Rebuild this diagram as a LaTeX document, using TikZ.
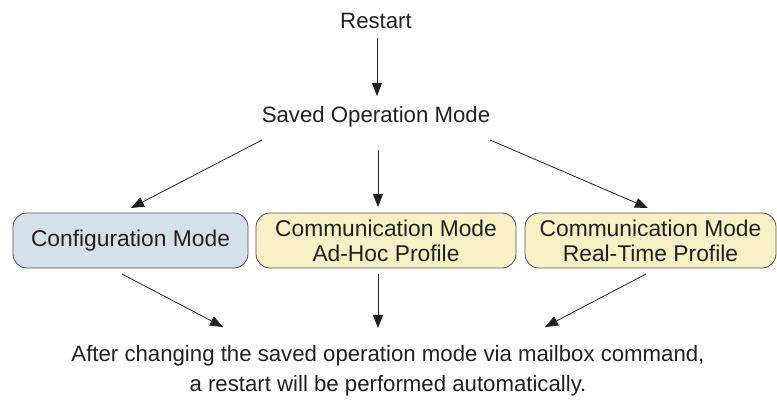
\documentclass[tikz,border=0pt]{standalone}
\usepackage{fontspec}
\setmainfont{Liberation Sans}
\usepackage{tikz}
\usetikzlibrary{arrows.meta,positioning,calc}
\usepackage{xcolor}
\definecolor{inktext}{RGB}{35,31,32}
\definecolor{cfgfill}{RGB}{213,225,233}
\definecolor{comfill}{RGB}{247,241,197}
\definecolor{boxline}{RGB}{80,80,80}

\tikzset{
  modebox/.style={draw=boxline,line width=0.8pt,rounded corners=14pt,align=center,
    inner sep=0pt,minimum height=55pt,font=\fontsize{22.8}{25}\selectfont},
  flow/.style={-{Triangle[length=13pt,width=10pt]},line width=0.8pt,draw=inktext},
  lbl/.style={font=\fontsize{22.2}{30}\selectfont,inner sep=0pt}
}

\begin{document}
\begin{tikzpicture}[x=1pt,y=-1pt,text=inktext]
\useasboundingbox (0,0) rectangle (777,414);
\node[lbl,anchor=base] (restart) at (376,29) {Restart};
\node[lbl,anchor=base] (saved) at (376,122.5) {Saved Operation Mode};
\node[modebox,fill=cfgfill,minimum width=235pt] (cfg) at (130.5,240.5) {Configuration Mode};
\node[modebox,fill=comfill,minimum width=260pt] (adhoc) at (386,240.5) {Communication Mode\\Ad-Hoc Profile};
\node[modebox,fill=comfill,minimum width=251pt] (rt) at (650.5,240.5) {Communication Mode\\Real-Time Profile};
\node[lbl,anchor=base,align=center] (note) at (388,391) {After changing the saved operation mode via mailbox command,\\a restart will be performed automatically.};
% arrow ends
\coordinate (r1) at (377,38);
\coordinate (r2) at (377,96);
\coordinate (sl) at (262,140);
\coordinate (sm) at (378,150);
\coordinate (sr) at (490,140);
\coordinate (tl) at (131,208);
\coordinate (tm) at (378,207);
\coordinate (tr) at (648,208);
\coordinate (bl) at (122,274);
\coordinate (bm) at (378,274);
\coordinate (br) at (646,274);
\coordinate (nl) at (223,327);
\coordinate (nm) at (378,328);
\coordinate (nr) at (545,327);
\draw[flow] (r1) -- (r2);
\draw[flow] (sl) -- (tl);
\draw[flow] (sm) -- (tm);
\draw[flow] (sr) -- (tr);
\draw[flow] (bl) -- (nl);
\draw[flow] (bm) -- (nm);
\draw[flow] (br) -- (nr);
\end{tikzpicture}
\end{document}
